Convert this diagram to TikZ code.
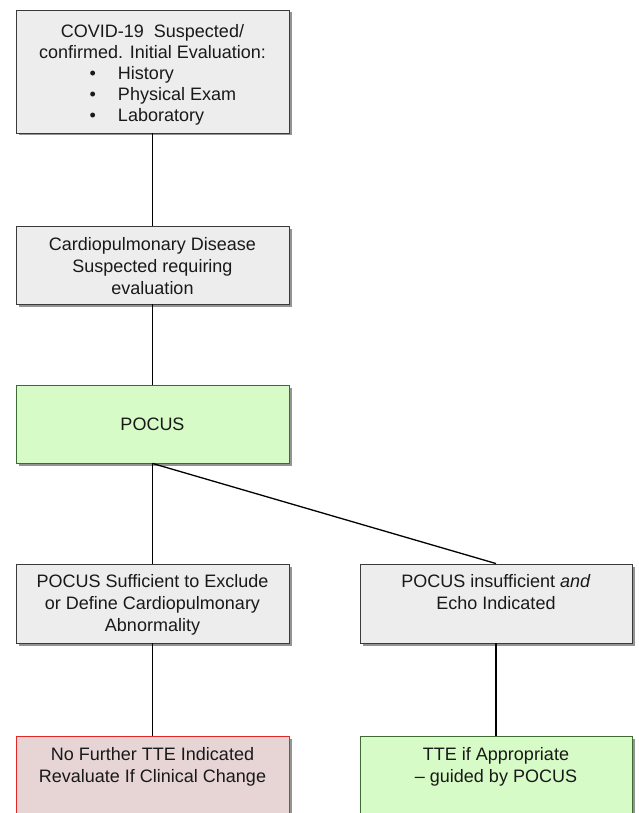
\documentclass[tikz,border=0pt]{standalone}
\usepackage{fontspec}
\setmainfont{Liberation Sans}
\usetikzlibrary{shadows}
\definecolor{boxgray}{HTML}{EDEDED}
\definecolor{boxgreen}{HTML}{D6FBC6}
\definecolor{boxpink}{HTML}{E7D5D5}
\definecolor{edgegray}{HTML}{3A3A3A}
\definecolor{edgegreen}{HTML}{3F6A34}
\definecolor{edgered}{HTML}{E02828}
\tikzset{
  box/.style={draw=edgegray, line width=0.9pt, fill=boxgray, inner sep=0pt,
    drop shadow={shadow xshift=2.5pt, shadow yshift=-2.5pt, fill=black!60, opacity=0.7}},
  greenbox/.style={box, draw=edgegreen, fill=boxgreen},
  pinkbox/.style={box, draw=edgered, fill=boxpink},
  txt/.style={font=\fontsize{18}{22}\selectfont, align=center, inner sep=0pt, text=black!90},
  link/.style={draw=black, line width=1.3pt}
}
\begin{document}
\begin{tikzpicture}[x=1pt,y=-1pt]
\useasboundingbox (0,0) rectangle (638,813);
% boxes
\node[box, minimum width=273pt, minimum height=123pt] (b1) at (152.5,71.5) {};
\node[box, minimum width=273pt, minimum height=78pt] (b2) at (152.5,265) {};
\node[greenbox, minimum width=273pt, minimum height=78pt] (b3) at (152.5,424) {};
\node[box, minimum width=273pt, minimum height=79pt] (b4) at (152.5,603.5) {};
\node[box, minimum width=272pt, minimum height=79pt] (b5) at (496,603.5) {};
\node[pinkbox, minimum width=273pt, minimum height=100pt, anchor=north] (b6) at (152.5,736) {};
\node[greenbox, minimum width=272pt, minimum height=100pt, anchor=north] (b7) at (496,736) {};
% texts
\node[txt, anchor=north, font=\fontsize{18}{21.5}\selectfont] (t1) at (152.5,24) {COVID-19\ \ Suspected/\\confirmed. Initial Evaluation:};
\node[txt, anchor=north west, align=left, font=\fontsize{18}{21}\selectfont] (t1b) at (89.5,66) {\textbullet\hspace{22pt}History\\\textbullet\hspace{22pt}Physical Exam\\\textbullet\hspace{22pt}Laboratory};
\node[txt, anchor=north] (t2) at (152.5,237) {Cardiopulmonary Disease\\Suspected requiring\\evaluation};
\node[txt] (t3) at (152.5,424) {POCUS};
\node[txt, anchor=north] (t4) at (152.5,574) {POCUS Sufficient to Exclude\\or Define Cardiopulmonary\\Abnormality};
\node[txt, anchor=north] (t5) at (496,574) {POCUS insufficient \textit{and}\\Echo Indicated};
\node[txt, anchor=north] (t6) at (152.5,747) {No Further TTE Indicated\\Revaluate If Clinical Change};
\node[txt, anchor=north] (t7) at (496,747) {TTE if Appropriate\\– guided by POCUS};
% connectors
\draw[link] (b1.south) -- (b2.north);
\draw[link] (b2.south) -- (b3.north);
\draw[link] (b3.south) -- (b4.north);
\draw[link] (b3.south) -- (b5.north);
\draw[link] (b4.south) -- (b6.north);
\draw[link] (b5.south) -- (b7.north);
\end{tikzpicture}
\end{document}
